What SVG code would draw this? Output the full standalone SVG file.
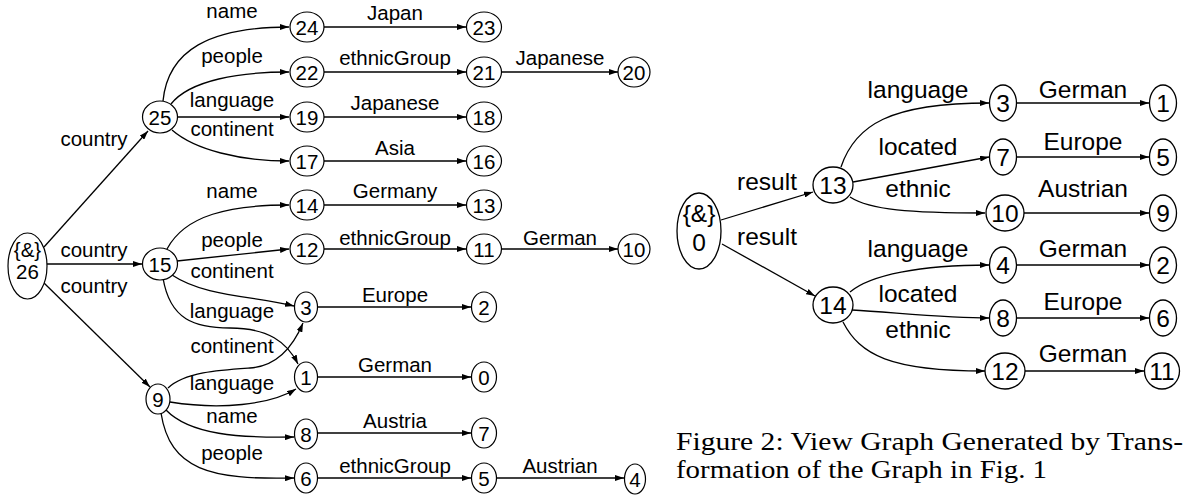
<svg xmlns="http://www.w3.org/2000/svg" width="1194" height="500" viewBox="0 0 1194 500">
<defs>
<marker id="ah" viewBox="0 0 10 10" refX="10" refY="5" markerWidth="9" markerHeight="6" markerUnits="userSpaceOnUse" orient="auto" preserveAspectRatio="none"><path d="M0,0 L10,5 L0,10 z" fill="#000"/></marker>
<style>
.n ellipse{fill:#fff;stroke:#000;stroke-width:1.2}
.n text{font-family:"Liberation Sans",Arial,sans-serif;font-size:20.5px;text-anchor:middle;fill:#000}
.r ellipse{fill:#fff;stroke:#000;stroke-width:1.3}
.r text{font-family:"Liberation Sans",Arial,sans-serif;font-size:24.5px;text-anchor:middle;fill:#000}
#edges path{fill:none;stroke:#000;stroke-width:1.3;marker-end:url(#ah)}
.lb{font-family:"Liberation Sans",Arial,sans-serif;font-size:20.5px;text-anchor:middle;fill:#000}
.lr{font-family:"Liberation Sans",Arial,sans-serif;font-size:24.5px;text-anchor:middle;fill:#000}
.cap{font-family:"Liberation Serif","Times New Roman",serif;font-size:24.5px;fill:#000}
</style>
</defs>
<rect width="1194" height="500" fill="#fff"/>
<g id="edges">
<path d="M44,247 L148,131"/>
<path d="M47,264 L142,264"/>
<path d="M44,283 L150,387"/>
<path d="M163,101 C168,50 210,27 289,27"/>
<path d="M171,104 C190,80 240,72 289,72"/>
<path d="M178,117 L289,117"/>
<path d="M172,130 C195,150 240,161 289,161"/>
<path d="M167,249 C185,215 230,205 289,205"/>
<path d="M177,261 L289,249"/>
<path d="M172,275 C205,297 255,296 294,306"/>
<path d="M163,278 C170,320 195,328 230,328 C268,328 287,342 298,364"/>
<path d="M168,388 C185,372 220,370 250,368 C280,366 295,342 303,323"/>
<path d="M170,402 C220,410 270,405 296,389"/>
<path d="M166,410 C190,435 240,438 294,437"/>
<path d="M161,413 C170,470 210,480 294,478"/>
<path d="M324,27 L466,27"/>
<path d="M324,72 L466,72"/>
<path d="M501,72 L618,72"/>
<path d="M324,117 L466,117"/>
<path d="M324,161 L466,161"/>
<path d="M324,205 L466,205"/>
<path d="M324,249 L466,249"/>
<path d="M501,249 L618,249"/>
<path d="M318,307 L471,307"/>
<path d="M317,377 L471,377"/>
<path d="M317,433 L471,433"/>
<path d="M317,478 L471,478"/>
<path d="M496,478 L624,478"/>
<path d="M721,220 L813,192"/>
<path d="M722,244 L815,296"/>
<path d="M841,167 C855,125 890,103 989,103"/>
<path d="M853,182 L989,157"/>
<path d="M850,197 C870,210 910,213 985,213"/>
<path d="M850,292 C870,275 920,265 989,265"/>
<path d="M852,310 C900,313 950,318 989,318"/>
<path d="M843,322 C860,355 890,371 985,371"/>
<path d="M1017,103 L1149,103"/>
<path d="M1017,157 L1149,157"/>
<path d="M1024,213 L1149,213"/>
<path d="M1017,265 L1149,265"/>
<path d="M1017,318 L1149,318"/>
<path d="M1025,371 L1144,371"/>
</g>
<g id="labels">
<text class="lb" x="232" y="18">name</text>
<text class="lb" x="232" y="63">people</text>
<text class="lb" x="232" y="107">language</text>
<text class="lb" x="232" y="136">continent</text>
<text class="lb" x="94" y="146">country</text>
<text class="lb" x="232" y="198">name</text>
<text class="lb" x="232" y="247">people</text>
<text class="lb" x="232" y="278">continent</text>
<text class="lb" x="232" y="318">language</text>
<text class="lb" x="232" y="353">continent</text>
<text class="lb" x="232" y="390">language</text>
<text class="lb" x="232" y="423">name</text>
<text class="lb" x="232" y="460">people</text>
<text class="lb" x="94" y="257">country</text>
<text class="lb" x="94" y="293">country</text>
<text class="lb" x="395" y="20">Japan</text>
<text class="lb" x="395" y="65">ethnicGroup</text>
<text class="lb" x="560" y="65">Japanese</text>
<text class="lb" x="395" y="110">Japanese</text>
<text class="lb" x="395" y="155">Asia</text>
<text class="lb" x="395" y="198">Germany</text>
<text class="lb" x="395" y="245">ethnicGroup</text>
<text class="lb" x="560" y="245">German</text>
<text class="lb" x="395" y="302">Europe</text>
<text class="lb" x="395" y="372">German</text>
<text class="lb" x="395" y="428">Austria</text>
<text class="lb" x="395" y="473">ethnicGroup</text>
<text class="lb" x="560" y="473">Austrian</text>
<text class="lr" x="767" y="190">result</text>
<text class="lr" x="767" y="245">result</text>
<text class="lr" x="918" y="98">language</text>
<text class="lr" x="918" y="155">located</text>
<text class="lr" x="918" y="197">ethnic</text>
<text class="lr" x="1083" y="98">German</text>
<text class="lr" x="1083" y="150">Europe</text>
<text class="lr" x="1083" y="197">Austrian</text>
<text class="lr" x="918" y="257">language</text>
<text class="lr" x="918" y="302">located</text>
<text class="lr" x="918" y="338">ethnic</text>
<text class="lr" x="1083" y="257">German</text>
<text class="lr" x="1083" y="310">Europe</text>
<text class="lr" x="1083" y="362">German</text>
</g>
<g id="n26" class="n"><ellipse cx="27.5" cy="266" rx="19.5" ry="33"/><text x="27.5" y="257">{&amp;}</text><text x="27.5" y="279">26</text></g>
<g id="n25" class="n"><ellipse cx="160" cy="117" rx="17.5" ry="16"/><text x="160" y="124.5">25</text></g>
<g id="n15" class="n"><ellipse cx="160" cy="264" rx="17.5" ry="16"/><text x="160" y="271.5">15</text></g>
<g id="n9" class="n"><ellipse cx="158" cy="399" rx="12" ry="15"/><text x="158" y="406.5">9</text></g>
<g id="n24" class="n"><ellipse cx="307" cy="27" rx="17" ry="15"/><text x="307" y="34.5">24</text></g>
<g id="n22" class="n"><ellipse cx="307" cy="72" rx="17" ry="15"/><text x="307" y="79.5">22</text></g>
<g id="n19" class="n"><ellipse cx="307" cy="117" rx="17" ry="15"/><text x="307" y="124.5">19</text></g>
<g id="n17" class="n"><ellipse cx="307" cy="161" rx="17" ry="15"/><text x="307" y="168.5">17</text></g>
<g id="n14" class="n"><ellipse cx="307" cy="205" rx="17" ry="15"/><text x="307" y="212.5">14</text></g>
<g id="n12" class="n"><ellipse cx="307" cy="249" rx="17" ry="15"/><text x="307" y="256.5">12</text></g>
<g id="n3" class="n"><ellipse cx="306" cy="307" rx="11.5" ry="15"/><text x="306" y="314.5">3</text></g>
<g id="n1" class="n"><ellipse cx="306" cy="377" rx="11.5" ry="15"/><text x="306" y="384.5">1</text></g>
<g id="n8" class="n"><ellipse cx="306" cy="434" rx="11.5" ry="15"/><text x="306" y="441.5">8</text></g>
<g id="n6" class="n"><ellipse cx="306" cy="478" rx="11.5" ry="15"/><text x="306" y="485.5">6</text></g>
<g id="n23" class="n"><ellipse cx="484" cy="27" rx="17.5" ry="15"/><text x="484" y="34.5">23</text></g>
<g id="n21" class="n"><ellipse cx="484" cy="72" rx="17.5" ry="15"/><text x="484" y="79.5">21</text></g>
<g id="n20" class="n"><ellipse cx="634" cy="72" rx="16" ry="15"/><text x="634" y="79.5">20</text></g>
<g id="n18" class="n"><ellipse cx="484" cy="117" rx="17.5" ry="15"/><text x="484" y="124.5">18</text></g>
<g id="n16" class="n"><ellipse cx="484" cy="161" rx="17.5" ry="15"/><text x="484" y="168.5">16</text></g>
<g id="n13" class="n"><ellipse cx="484" cy="205" rx="17.5" ry="15"/><text x="484" y="212.5">13</text></g>
<g id="n11" class="n"><ellipse cx="484" cy="249" rx="17.5" ry="15"/><text x="484" y="256.5">11</text></g>
<g id="n10" class="n"><ellipse cx="634" cy="249" rx="16" ry="15"/><text x="634" y="256.5">10</text></g>
<g id="n2" class="n"><ellipse cx="484" cy="307" rx="12.5" ry="15"/><text x="484" y="314.5">2</text></g>
<g id="n0" class="n"><ellipse cx="484" cy="377" rx="12.5" ry="15"/><text x="484" y="384.5">0</text></g>
<g id="n7" class="n"><ellipse cx="484" cy="433" rx="12.5" ry="15"/><text x="484" y="440.5">7</text></g>
<g id="n5" class="n"><ellipse cx="484" cy="478" rx="12.5" ry="15"/><text x="484" y="485.5">5</text></g>
<g id="n4" class="n"><ellipse cx="635" cy="479" rx="10.5" ry="15"/><text x="635" y="486.5">4</text></g>
<g id="r0" class="r"><ellipse cx="699" cy="231" rx="22" ry="38"/><text x="699" y="222">{&amp;}</text><text x="699" y="251">0</text></g>
<g id="r13" class="r"><ellipse cx="833" cy="185" rx="20" ry="18"/><text x="833" y="193.5">13</text></g>
<g id="r14" class="r"><ellipse cx="833" cy="305" rx="20" ry="18"/><text x="833" y="313.5">14</text></g>
<g id="r3" class="r"><ellipse cx="1003" cy="103" rx="13.5" ry="18"/><text x="1003" y="111.5">3</text></g>
<g id="r7" class="r"><ellipse cx="1003" cy="157" rx="13.5" ry="18"/><text x="1003" y="165.5">7</text></g>
<g id="r10" class="r"><ellipse cx="1005" cy="213" rx="19" ry="18"/><text x="1005" y="221.5">10</text></g>
<g id="r4" class="r"><ellipse cx="1003" cy="265" rx="13.5" ry="18"/><text x="1003" y="273.5">4</text></g>
<g id="r8" class="r"><ellipse cx="1003" cy="318" rx="13.5" ry="18"/><text x="1003" y="326.5">8</text></g>
<g id="r12" class="r"><ellipse cx="1005" cy="371" rx="20" ry="18"/><text x="1005" y="379.5">12</text></g>
<g id="r1" class="r"><ellipse cx="1163" cy="103" rx="13.5" ry="18"/><text x="1163" y="111.5">1</text></g>
<g id="r5" class="r"><ellipse cx="1163" cy="157" rx="13.5" ry="18"/><text x="1163" y="165.5">5</text></g>
<g id="r9" class="r"><ellipse cx="1163" cy="213" rx="13.5" ry="18"/><text x="1163" y="221.5">9</text></g>
<g id="r2" class="r"><ellipse cx="1163" cy="265" rx="13.5" ry="18"/><text x="1163" y="273.5">2</text></g>
<g id="r6" class="r"><ellipse cx="1163" cy="318" rx="13.5" ry="18"/><text x="1163" y="326.5">6</text></g>
<g id="r11" class="r"><ellipse cx="1162" cy="371" rx="17.5" ry="18"/><text x="1162" y="379.5">11</text></g>
<g id="caption">
<text class="cap" x="676" y="450" textLength="507" lengthAdjust="spacingAndGlyphs">Figure 2: View Graph Generated by Trans-</text>
<text class="cap" x="676" y="478" textLength="371" lengthAdjust="spacingAndGlyphs">formation of the Graph in Fig. 1</text>
</g>
</svg>
